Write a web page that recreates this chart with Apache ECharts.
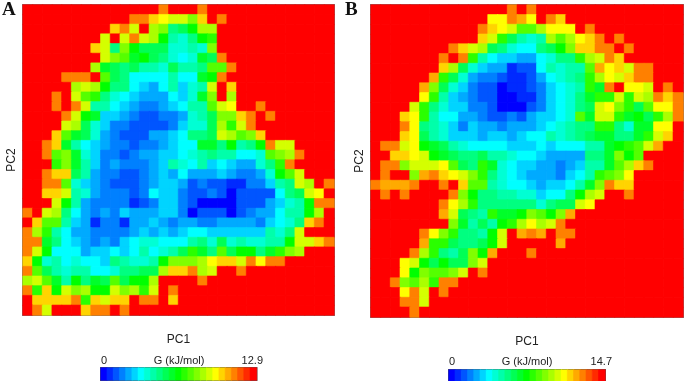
<!DOCTYPE html>
<html><head><meta charset="utf-8">
<style>html,body{margin:0;padding:0;background:#fff}#c{width:685px;height:381px}</style>
<script src="https://cdn.jsdelivr.net/npm/echarts@6/dist/echarts.min.js"></script>
</head><body><div id="c"></div>
<script>
// Free-energy levels per cell, top row first, left to right.
// One character per cell: 0..9 then a..o = colour level 0..24 (o = top level, red).
const rowsA = [
"oooooooooooooolooolo",
"ooooooooooolljihhfjol",
"ooooooooojlhogf9acgg",
"oooooooohohlhgc879cd",
"ooooooojh9fcaaa7787f",
"oooooooohfebca9767bal",
"oooooooggba9a887a889eel".slice(0,7)+"gba9a887a889eel",
"oooollloea96666866bcl",
"oooooghgc9965468578hoj",
"ooolohed9765444657bfog",
"ooololh886543345688ehiool",
"oooolhcb55432233478affjlol",
"oooohga753322223577agdhl",
"ooojeba743222445699ahgefj",
"ooljb8654332334566bb9c89clhh",
"oolefb7533234455678988667efgl",
"ooodfb85343334587685654479dl",
"ooljja84332234546444543347ceh",
"oolle75432223455423221133589hgol",
"oojjh87433323655322320222269ahi",
"ooohc843333123553200002224578cll",
"lohg9643435444553022202344688cgo",
"ojee854133144543443344443567 9jlo".replace(" ",""),
"lgd8644333345454566555555879h",
"llb96543435677666897a787788chhjl",
"lhc6664556568678adb9eacc9bdfg",
"jc786766598778cfffgijjhlill",
"lea878866799aagjjlghool",
"gheb8c9baeaccgooool",
"ldjchfgcchfgdhol",
"ojjjjldjhjjolloj",
"olhooojllol"
];
const rowsB = [
"oooooooooooooolol",
"ooooooooooooiilkiolj",
"oooooooooooljiheegiiiol",
"oooooooooooojhda878gegijlol".slice(1),
"ooooooooljhga97669acfjjllol",
"ooooooolold8655446799dghlj",
"oooooooj".slice(0,7)+"jga754412268788ekijhll",
"oooooo"+"kda7433211246789dgihjll",
"ooooo"+"kfa75322011235678dbloiihol",
"oooooid854322001135679bddhdhgljl",
"oooohd9755332000235679ahifdaeiil",
"ooojid866443223245567ebhhdbcadgl",
"oooli987535443444567899dd97bbii",
"ooojia8755545545668789abb99bdhj",
"ollhicba8766665556566688bcdehk",
"oojjihcba99a887665444499bfce",
"ollfhhhiea9db76554434588begjl",
"oloofkljihfd97654443568defi",
"lkkkloolojee8766545568bfljj",
"ololoooolfc9988775669cghool",
"oooooooligd99999979aahi",
"oooooookha98dbbcfecfk",
"oooooooofb8a8cdgighl",
"ooooolifd998choklkoll",
"oooookdda99achoooook",
"oooolgd98afckoool",
"oooihcacaafh",
"oooicfeefhol",
"oolfegdll",
"oooilhol",
"ooollh",
"ooool"
];
const levelCodes = "0123456789abcdefghijklmno";
const levelColors = ["#0000ff","#002aff","#0055ff","#0080ff","#00aaff","#00d4ff","#00ffff","#00ffd4","#00ffaa","#00ff80","#00ff55","#00ff2a","#00ff00","#2aff00","#55ff00","#80ff00","#aaff00","#d4ff00","#ffff00","#ffd400","#ffaa00","#ff8000","#ff5500","#ff2a00","#ff0000"];
const maxA = 12.9, maxB = 14.7;
const gridSize = 32;
const categories = Array.from({length: gridSize}, (_, i) => String(i));
const barLevels = levelColors.map((_, i) => String(i));

function cell(x, y, lev, max) {
  // the thin same-colour outline closes the antialiasing seams between neighbouring cells
  return { value: [x, y, (lev + 0.5) / levelColors.length * max],
           itemStyle: { borderColor: levelColors[lev], borderWidth: 0.6 } };
}
function cells(rows, max) {
  const out = [];
  rows.forEach((row, r) => {
    const s = row.padEnd(gridSize, "o").slice(0, gridSize);
    for (let c = 0; c < gridSize; c++) out.push(cell(c, gridSize - 1 - r, levelCodes.indexOf(s[c]), max));
  });
  return out;
}
function barCells(max) { return levelColors.map((_, i) => cell(i, 0, i, max)); }
function pieces(max) {
  return levelColors.map((color, i) => ({ min: i / levelColors.length * max, max: (i + 1) / levelColors.length * max, color }));
}
const FONT = '"Liberation Sans", Arial, sans-serif';
const hidden = { axisLine: { show: false }, axisTick: { show: false }, axisLabel: { show: false }, splitLine: { show: false } };
function xAx(i) {
  return Object.assign({ gridIndex: i, type: 'category', data: categories, name: 'PC1', nameLocation: 'middle',
    nameGap: 19, nameTextStyle: { fontFamily: FONT, fontSize: 12, color: '#222' } }, hidden);
}
function yAx(i) {
  return Object.assign({ gridIndex: i, type: 'category', data: categories, name: 'PC2', nameLocation: 'middle',
    nameGap: 5, nameRotate: 90, nameTextStyle: { fontFamily: FONT, fontSize: 12, color: '#222' } }, hidden);
}
function barX(i) { return Object.assign({ gridIndex: i, type: 'category', data: barLevels }, hidden); }
function barY(i) { return Object.assign({ gridIndex: i, type: 'category', data: ['0'] }, hidden); }
function vm(seriesIndex, max) {
  return { type: 'piecewise', show: false, seriesIndex, pieces: pieces(max) };
}
function heat(i, data) {
  return { type: 'heatmap', xAxisIndex: i, yAxisIndex: i, data, progressive: 0, emphasis: { disabled: true } };
}
function txt(x, y, text, align) {
  return { type: 'text', x, y, style: { text, fontFamily: FONT, fontSize: 11, fill: '#222', align, verticalAlign: 'middle' } };
}
function letter(x, text) {
  return { type: 'text', x, y: 10, style: { text, fontFamily: '"Liberation Serif", serif', fontWeight: 'bold', fontSize: 19, fill: '#111', align: 'left', verticalAlign: 'middle' } };
}
const chart = echarts.init(document.getElementById('c'), null, { renderer: 'canvas' });
chart.setOption({
  animation: false,
  backgroundColor: '#fff',
  grid: [
    { left: 23, top: 5, width: 311, height: 310, show: true, borderColor: '#777', borderWidth: 2 },
    { left: 371, top: 5, width: 312, height: 312, show: true, borderColor: '#777', borderWidth: 2 },
    { left: 101, top: 368, width: 155.5, height: 12, show: true, borderColor: '#555', borderWidth: 2 },
    { left: 449, top: 370, width: 156, height: 12, show: true, borderColor: '#555', borderWidth: 2 }
  ],
  xAxis: [xAx(0), xAx(1), barX(2), barX(3)],
  yAxis: [yAx(0), yAx(1), barY(2), barY(3)],
  visualMap: [vm([0, 2], maxA), vm([1, 3], maxB)],
  series: [
    heat(0, cells(rowsA, maxA)),
    heat(1, cells(rowsB, maxB)),
    heat(2, barCells(maxA)),
    heat(3, barCells(maxB))
  ],
  graphic: [
    letter(2, 'A'), letter(345, 'B'),
    txt(104, 361, '0', 'center'), txt(179, 361, 'G (kJ/mol)', 'center'), txt(263, 361, '12.9', 'right'),
    txt(452, 362, '0', 'center'), txt(527, 362, 'G (kJ/mol)', 'center'), txt(612, 362, '14.7', 'right')
  ]
});
</script></body></html>
